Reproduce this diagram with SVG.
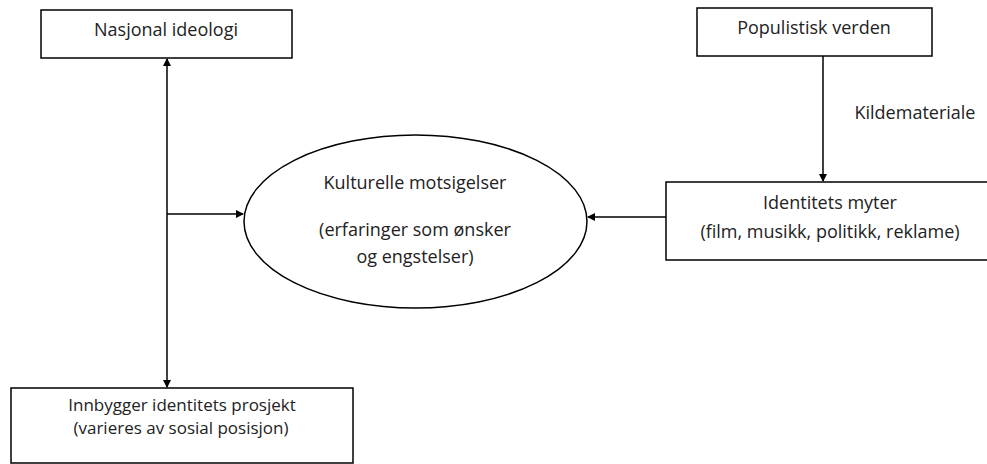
<svg xmlns="http://www.w3.org/2000/svg" width="987" height="464" viewBox="0 0 987 464">
<style>
.box{fill:#fff;stroke:#000;stroke-width:1.5}
.t{font-family:"Open Sans","Liberation Sans",Arial,sans-serif;font-size:18px;fill:#222;text-anchor:middle}
.s{font-size:17px}
.c{stroke:#000;stroke-width:1.5;fill:none}
</style>
<defs>
<marker id="ah" markerWidth="8" markerHeight="8" refX="7" refY="4" orient="auto-start-reverse" markerUnits="userSpaceOnUse">
<path d="M0,0 L8,4 L0,8 z" fill="#000"/>
</marker>
</defs>
<rect width="987" height="464" fill="#fff"/>
<g id="connectors">
<line class="c" x1="167" y1="59" x2="167" y2="387" marker-start="url(#ah)" marker-end="url(#ah)"/>
<line class="c" x1="167" y1="214" x2="243" y2="214" marker-end="url(#ah)"/>
<line class="c" x1="823" y1="56" x2="823" y2="181" marker-end="url(#ah)"/>
<line class="c" x1="666" y1="217" x2="588" y2="217" marker-end="url(#ah)"/>
<text class="t" x="915" y="119">Kildemateriale</text>
</g>
<g id="nasjonal">
<rect class="box" x="41" y="10" width="251" height="48"/>
<text class="t" x="166" y="36">Nasjonal ideologi</text>
</g>
<g id="populistisk">
<rect class="box" x="697" y="8" width="235" height="48"/>
<text class="t" x="814" y="34">Populistisk verden</text>
</g>
<g id="kulturelle">
<ellipse class="box" cx="415.5" cy="221.5" rx="171.5" ry="86.5"/>
<text class="t" x="415" y="189">Kulturelle motsigelser</text>
<text class="t" x="415" y="236">(erfaringer som ønsker</text>
<text class="t" x="415" y="263">og engstelser)</text>
</g>
<g id="myter">
<rect class="box" x="666" y="182" width="330" height="78"/>
<text class="t" x="830" y="209">Identitets myter</text>
<text class="t" x="830" y="238">(film, musikk, politikk, reklame)</text>
</g>
<g id="innbygger">
<rect class="box" x="11" y="388" width="342" height="75"/>
<text class="t s" x="182" y="411">Innbygger identitets prosjekt</text>
<text class="t s" x="181" y="434">(varieres av sosial posisjon)</text>
</g>
</svg>
